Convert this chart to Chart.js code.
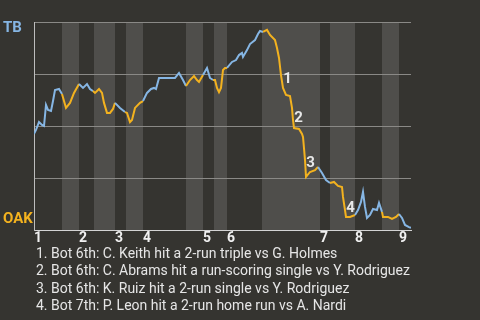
<!DOCTYPE html>
<html><head><meta charset="utf-8">
<script src="https://cdn.jsdelivr.net/npm/chart.js@4/dist/chart.umd.min.js"></script>
<style>
html,body{margin:0;padding:0;background:#353430;}
#wrap{position:relative;width:480px;height:320px;}
#notes{position:absolute;left:36px;top:245px;font:14px Roboto,sans-serif;line-height:17.3px;color:#e6e6e6;white-space:nowrap;}
</style></head><body>
<div id="wrap"><canvas id="wp" width="480" height="320"></canvas><div id="notes"></div></div>
<script>
// game progress (plays along the x axis) and Tampa Bay win probability
const progress=[0,2,5,8,10,12,14,17,19,21,25,28,32,36,40,45,49,53,56,59,61,65,68,70,73,76,79,81,86,91,93,96,98,101,106,109,113,117,120,122,125,141,145,149,152,156,160,163,165,169,173,176,179,181,183,185,187,189,191,193,198,202,205,208,209,213,216,221,224,226,229,233,236,241,243,245,247,249,252,256,258,259,260,265,268,269,270,271,272,276,281,284,288,292,296,300,304,308,309,311,312,316,321,324,327,329,331,333,336,339,343,345,348,349,354,358,362,365,368,371,375,377];
const tbWinPct=[46.2,48.1,51.9,50.5,50.0,60.1,57.7,57.2,62.0,67.3,67.8,65.4,58.7,61.1,65.9,70.2,68.3,70.2,67.8,66.8,65.9,67.8,65.9,61.1,56.3,56.3,58.2,61.1,58.7,56.7,56.3,51.9,52.9,58.7,61.1,62.0,65.9,67.8,68.3,67.8,73.1,73.1,75.5,72.1,69.2,72.1,74.0,72.1,71.2,74.5,77.9,73.1,72.1,72.1,68.3,66.3,68.3,76.9,77.9,77.9,80.8,81.7,84.1,85.1,83.2,86.5,89.4,91.3,94.2,95.7,95.2,96.2,93.8,91.3,87.5,82.7,74.5,68.3,64.9,64.4,58.7,52.9,49.0,48.6,46.2,44.7,39.4,33.7,25.5,27.9,28.8,30.3,27.4,24.0,22.6,23.1,21.2,20.7,15.9,9.6,6.3,6.3,7.2,9.6,13.5,18.3,11.1,5.8,7.2,10.1,9.6,13.0,8.7,6.3,6.3,5.3,6.3,7.7,5.8,2.4,1.4,1.0];
// start of every half inning (top 1st, bot 1st, ...) and the game end
const halfStarts=[0,28,45,60,81,92,109,152,169,180,193,228,286,296,321,348,365,377];
const inningStarts=[0,45,81,109,169,193,286,321,365];
const inningLabels=['1','2','3','4','5','6','7','8','9'];
// key plays: where the swing starts and ends
const eventStart=[245,256,269,308];
const eventEnd=[249,260,272,312];
const eventLabels=['1','2','3','4'];
const eventNotes=[
  '1. Bot 6th: C. Keith hit a 2-run triple vs G. Holmes',
  '2. Bot 6th: C. Abrams hit a run-scoring single vs Y. Rodriguez',
  '3. Bot 6th: K. Ruiz hit a 2-run single vs Y. Rodriguez',
  '4. Bot 7th: P. Leon hit a 2-run home run vs A. Nardi'
];
const teamTicks=[97,5];
const teamLabels=['TB','OAK'];

const BLUE='#86b6e4', ORANGE='#f3b21f';
function halfIndex(x){let k=0;for(let i=0;i<halfStarts.length;i++){if(x>=halfStarts[i])k=i;}return k;}

document.getElementById('notes').innerHTML=eventNotes.join('<br>');

const bands={id:'bands',beforeDraw(chart){
  const {ctx,chartArea:a,scales:{x}}=chart;
  ctx.save();ctx.fillStyle='#4f4e4b';
  for(let i=1;i<halfStarts.length-1;i+=2){
    const x0=x.getPixelForValue(halfStarts[i]),x1=x.getPixelForValue(halfStarts[i+1]);
    ctx.fillRect(x0,a.top,x1-x0,a.bottom-a.top);
  }
  ctx.restore();
}};
const marks={id:'marks',afterDatasetsDraw(chart){
  const {ctx,scales:{x,y}}=chart;
  ctx.save();ctx.font='bold 15px Roboto, sans-serif';ctx.fillStyle='#e8e8e8';
  ctx.textAlign='center';ctx.textBaseline='middle';
  eventLabels.forEach((t,j)=>{
    const i0=progress.indexOf(eventStart[j]),i1=progress.indexOf(eventEnd[j]);
    const px=x.getPixelForValue(progress[i1]);
    const py=(y.getPixelForValue(tbWinPct[i0])+y.getPixelForValue(tbWinPct[i1]))/2;
    ctx.fillText(t,px+4.5,py+6);
  });
  ctx.restore();
}};

new Chart(document.getElementById('wp'),{
  type:'line',
  data:{datasets:[{data:progress.map((v,i)=>({x:v,y:tbWinPct[i]})),borderWidth:2,pointRadius:0,tension:0,
    borderColor:BLUE,
    segment:{borderColor:c=>halfIndex((c.p0.parsed.x+c.p1.parsed.x)/2)%2?ORANGE:BLUE}}]},
  options:{responsive:false,animation:false,
    layout:{padding:{left:3,top:22,right:69,bottom:76}},
    plugins:{legend:{display:false},tooltip:{enabled:false}},
    scales:{
      x:{type:'linear',min:0,max:377,
        afterBuildTicks:s=>{s.ticks=inningStarts.map(v=>({value:v}));},
        afterFit:s=>{s.height=14;},
        grid:{display:false,drawTicks:false},
        border:{color:'#d4d4d4',width:1},
        ticks:{autoSkip:false,maxRotation:0,align:'start',padding:0,color:'#f0f0f0',font:{family:'Roboto',size:14,weight:'bold'},
          callback:(v,i)=>inningLabels[i]}},
      y:{min:0,max:100,
        afterBuildTicks:s=>{s.ticks=[0,25,50,75,100].concat(teamTicks).map(v=>({value:v}));},
        afterFit:s=>{s.width=31;},
        grid:{drawTicks:false,color:c=>[25,50,75,100].includes(c.tick.value)?'#8a8986':'rgba(0,0,0,0)'},
        border:{color:'#bdbdbd',width:1},
        ticks:{autoSkip:false,crossAlign:'far',padding:0,font:{family:'Roboto',size:15,weight:'bold'},
          color:c=>c.tick.value===teamTicks[0]?BLUE:ORANGE,
          callback:v=>{const k=teamTicks.indexOf(v);return k<0?'':teamLabels[k];}}}
    }},
  plugins:[bands,marks]
});
</script>
</body></html>
